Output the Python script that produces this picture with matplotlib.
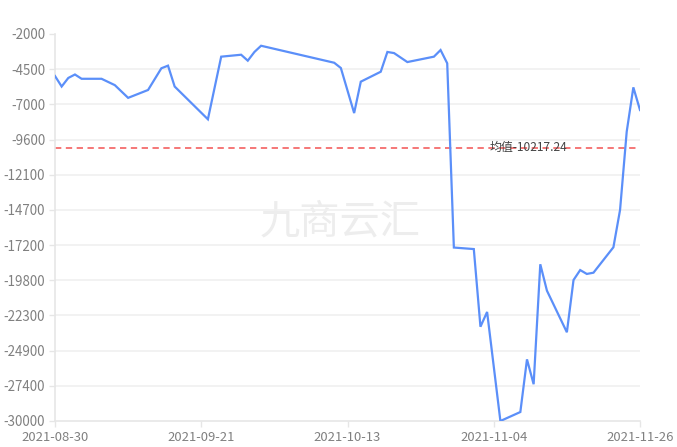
import pandas as pd
import matplotlib
matplotlib.use('Agg')
import matplotlib.pyplot as plt
import numpy as np

plt.rcParams['font.family'] = ['Noto Sans CJK SC', 'DejaVu Sans']

# Data
dates = ['2021-08-30', '2021-08-31', '2021-09-01', '2021-09-02', '2021-09-03',
         '2021-09-06', '2021-09-08', '2021-09-10', '2021-09-13', '2021-09-15',
         '2021-09-16', '2021-09-17', '2021-09-22', '2021-09-24', '2021-09-27',
         '2021-09-28', '2021-09-29', '2021-09-30', '2021-10-11', '2021-10-12',
         '2021-10-14', '2021-10-15', '2021-10-18', '2021-10-19', '2021-10-20',
         '2021-10-22', '2021-10-26', '2021-10-27', '2021-10-28', '2021-10-29',
         '2021-11-01', '2021-11-02', '2021-11-03', '2021-11-05', '2021-11-08',
         '2021-11-09', '2021-11-10', '2021-11-11', '2021-11-12', '2021-11-15',
         '2021-11-16', '2021-11-17', '2021-11-18', '2021-11-19', '2021-11-22',
         '2021-11-23', '2021-11-24', '2021-11-25', '2021-11-26']
values = [-5040, -5800, -5180, -4930, -5240,
          -5240, -5700, -6620, -6050, -4480,
          -4290, -5800, -8170, -3640, -3500,
          -3930, -3300, -2850, -4080, -4460,
          -7720, -5450, -4730, -3300, -3380,
          -4030, -3640, -3160, -4120, -17450,
          -17560, -23180, -22110, -30000, -29350,
          -25540, -27340, -18660, -20570, -23580,
          -19800, -19080, -19360, -19270, -17430,
          -14730, -9070, -5860, -7500]
mean_value = -10217.24
mean_label = '均值-10217.24'

ytick_values = np.linspace(-2000, -30000, 12)
ytick_labels = ['-2000', '-4500', '-7000', '-9600', '-12100', '-14700',
                '-17200', '-19800', '-22300', '-24900', '-27400', '-30000']
xtick_dates = ['2021-08-30', '2021-09-21', '2021-10-13', '2021-11-04', '2021-11-26']

x = pd.to_datetime(dates)
xt = pd.to_datetime(xtick_dates)

fig = plt.figure(figsize=(6.77, 4.47), dpi=100)
ax = fig.add_axes([55 / 677, 1 - 421 / 447, 585 / 677, 387 / 447])

# grid lines (none at the top)
for yv in ytick_values[1:-1]:
    ax.axhline(yv, color='#f0f0f0', linewidth=1.2, zorder=1)

ax.plot(x, values, color='#5b8ff9', linewidth=1.6, zorder=3, solid_joinstyle='miter')
ax.axhline(mean_value, color='#f56c6c', linewidth=1.3, linestyle=(0, (3.5, 2.5)), zorder=2)
ax.text(0.809, (mean_value + 30000) / 28000, mean_label, transform=ax.transAxes,
        ha='center', va='center', fontsize=8.6, color='#444444', zorder=4)

ax.text(0.487, 0.515, '九商云汇', transform=ax.transAxes, ha='center', va='center',
        fontsize=29, color='#ededed', zorder=0)

ax.set_xlim(xt[0], xt[-1])
ax.set_ylim(-30000, -2000)
ax.set_yticks(ytick_values)
ax.set_yticklabels(ytick_labels)
ax.set_xticks(xt)
ax.set_xticklabels(xtick_dates)

for s in ['top', 'right']:
    ax.spines[s].set_visible(False)
for s in ['left', 'bottom']:
    ax.spines[s].set_color('#e6e6e6')
    ax.spines[s].set_linewidth(1.2)

ax.tick_params(axis='y', colors='#e6e6e6', labelcolor='#808080', labelsize=9.6,
               length=4, width=1, pad=3)
ax.tick_params(axis='x', colors='#e6e6e6', labelcolor='#808080', labelsize=9.4,
               length=4, width=1, pad=3.5)

plt.savefig('out.png', dpi=100)
